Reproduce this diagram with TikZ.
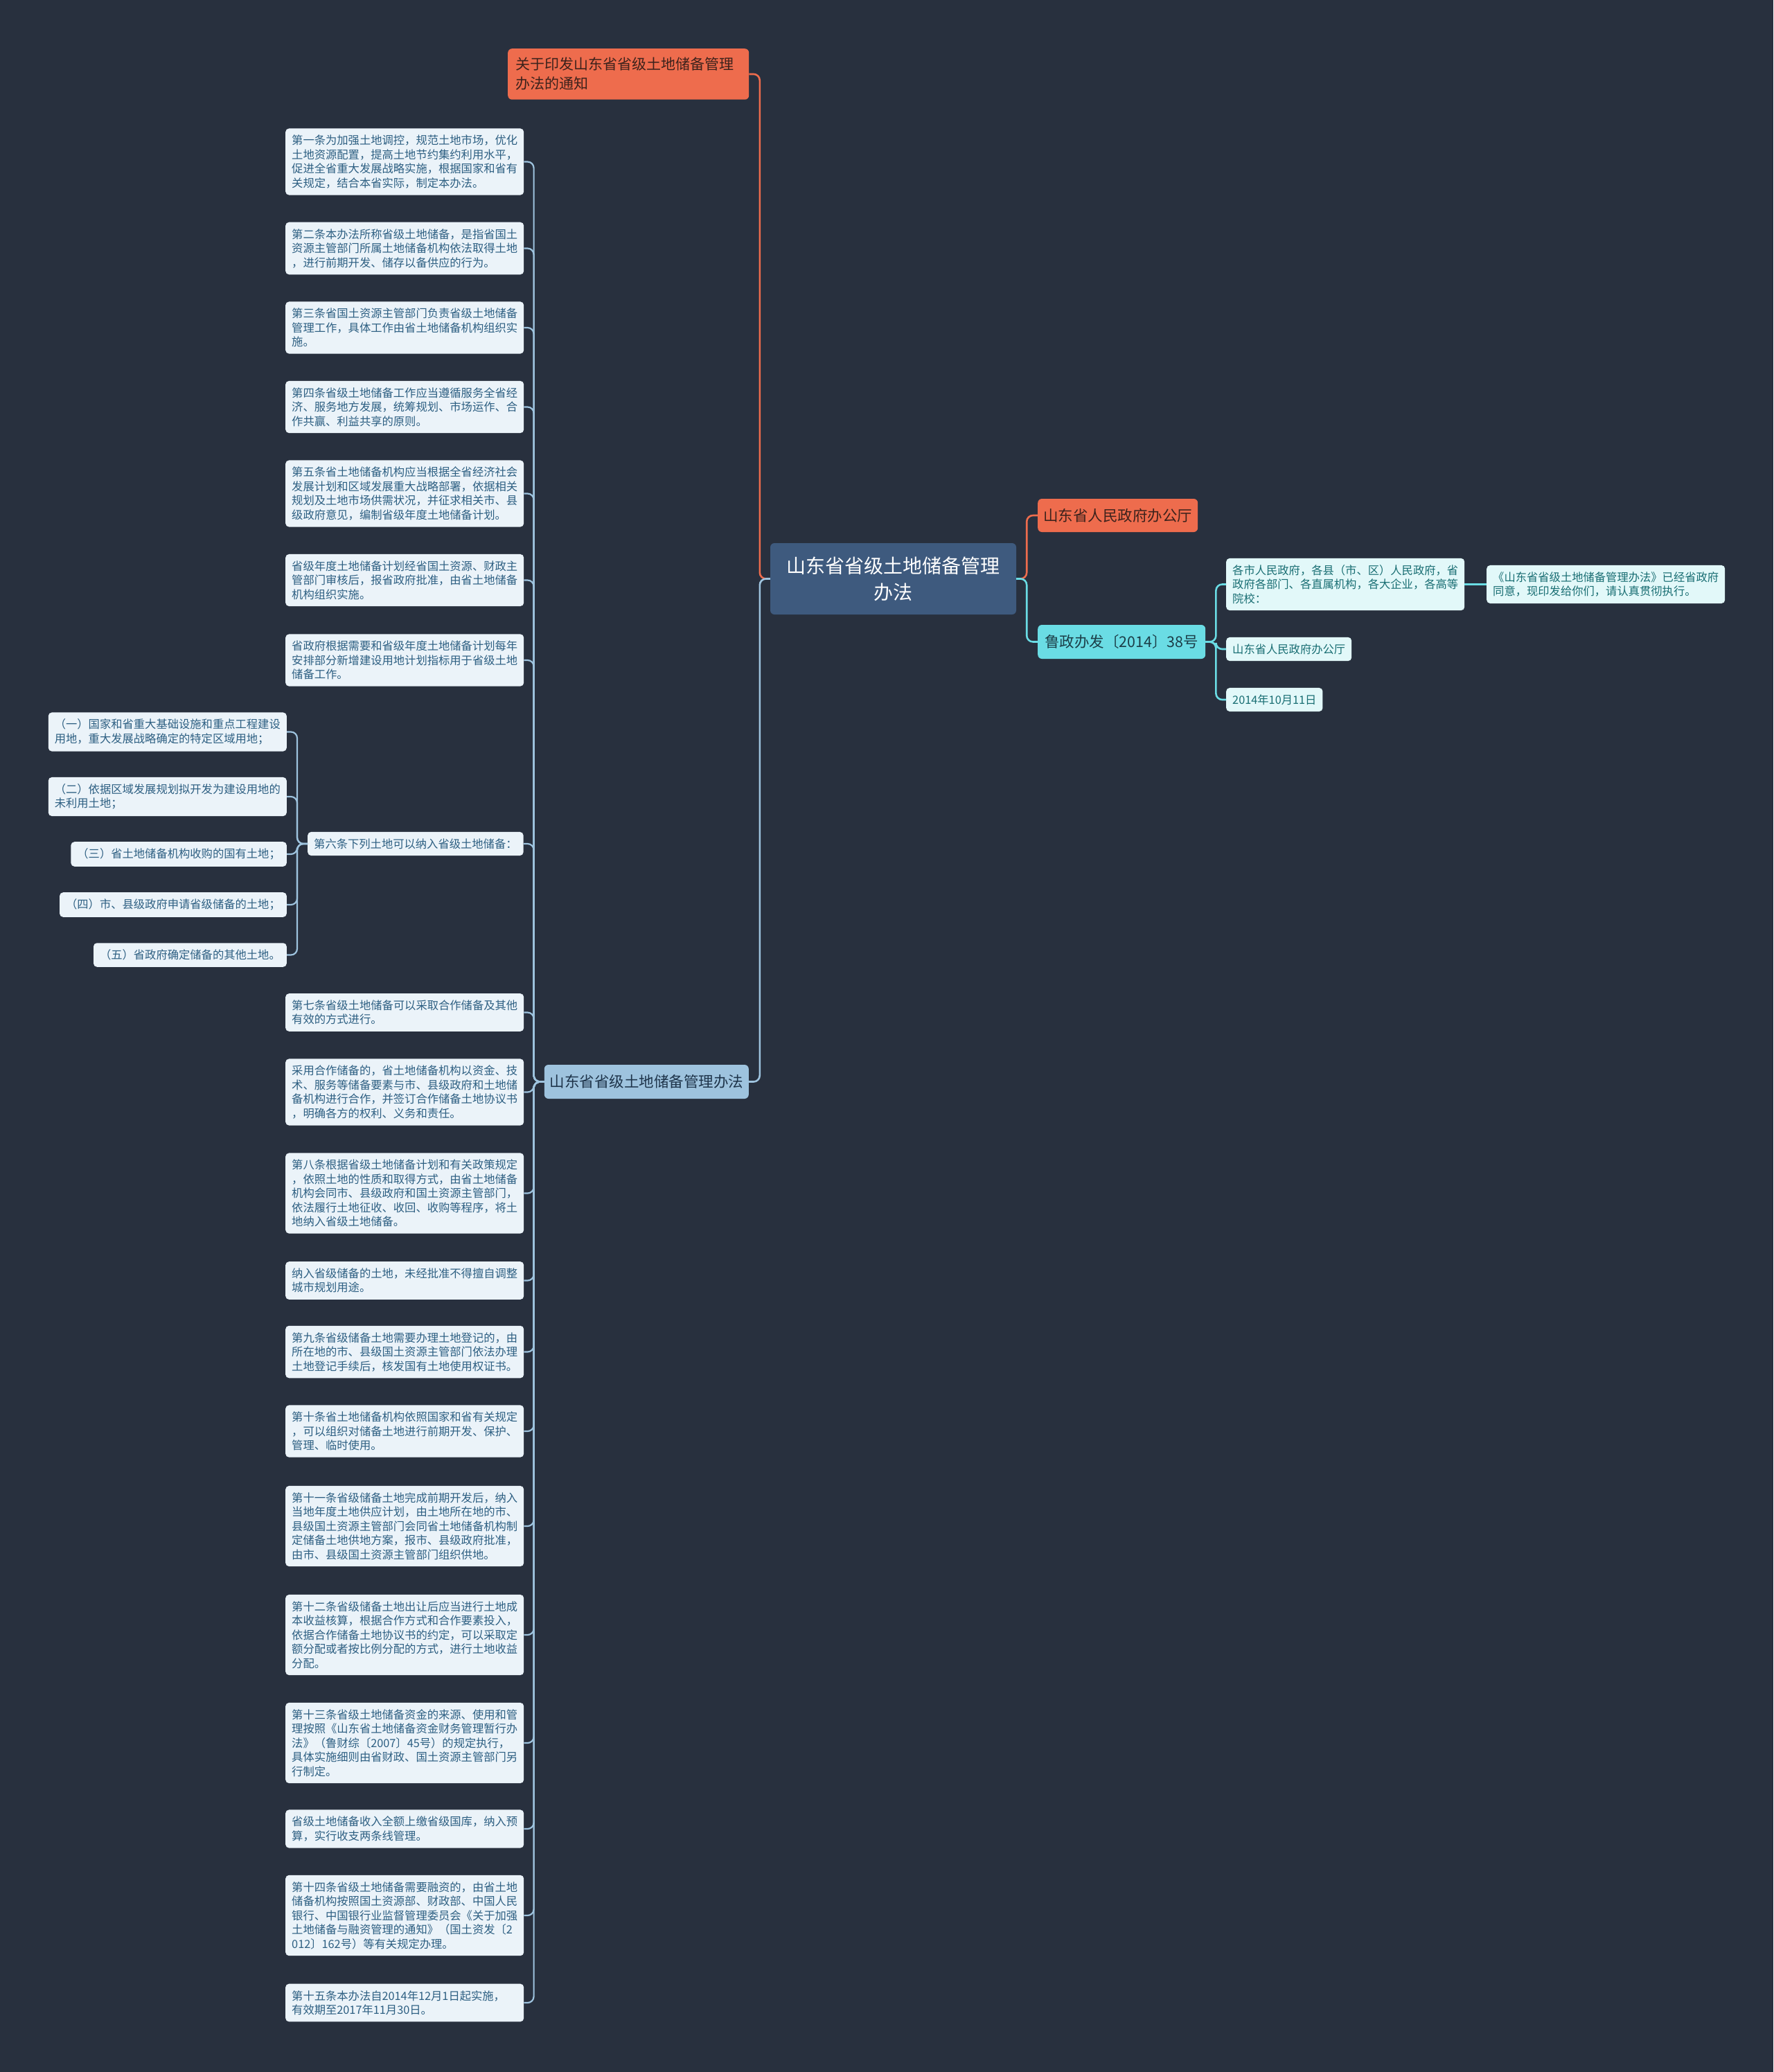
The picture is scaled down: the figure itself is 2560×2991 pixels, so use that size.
\documentclass[tikz,border=0pt]{standalone}
\usepackage{fontspec}
\setmainfont{Noto Sans CJK SC}
\definecolor{bgdark}{RGB}{40,48,62}
\definecolor{rootfill}{RGB}{62,90,126}
\definecolor{orangefill}{RGB}{238,108,77}
\definecolor{orangeink}{RGB}{60,34,28}
\definecolor{cyanfill}{RGB}{106,220,228}
\definecolor{cyanink}{RGB}{28,62,72}
\definecolor{bluefill}{RGB}{158,195,222}
\definecolor{blueink}{RGB}{30,52,74}
\definecolor{leaffill}{RGB}{235,243,249}
\definecolor{leafink}{RGB}{45,95,130}
\definecolor{tealfill}{RGB}{226,248,249}
\definecolor{tealink}{RGB}{25,110,115}
\begin{document}
\begin{tikzpicture}[x=1pt,y=-1pt,
        leaf/.style={fill=leaffill,text=leafink,rounded corners=5pt,inner xsep=9pt,inner ysep=9.5pt,
          align=left,font=\fontsize{16.3}{20.5}\selectfont},
        art/.style={leaf,text width=326pt,anchor=west},
        item/.style={leaf,anchor=east},
        tealleaf/.style={leaf,fill=tealfill,text=tealink,anchor=west},
        central/.style={fill=rootfill,text=white,rounded corners=6pt,align=center,
          minimum width=355pt,minimum height=103pt,font=\fontsize{28}{38}\selectfont},
        orangebox/.style={fill=orangefill,text=orangeink,rounded corners=6pt,inner xsep=11pt,
          font=\fontsize{21.5}{28}\selectfont},
        cyanbox/.style={fill=cyanfill,text=cyanink,rounded corners=6pt,inner xsep=5pt,
          font=\fontsize{21.5}{28}\selectfont},
        bluebox/.style={fill=bluefill,text=blueink,rounded corners=6pt,inner xsep=6pt,
          font=\fontsize{21.5}{28}\selectfont},
        link/.style={line width=2.6pt,rounded corners=9pt},
        orangeline/.style={link,draw=orangefill},
        cyanline/.style={link,draw=cyanfill},
        leafline/.style={link,line width=2.2pt,draw=bluefill}]

        % sfondo
        \fill[bgdark] (0,0) rectangle (2560,2991);
        \useasboundingbox (0,0) rectangle (2560,2991);

        % nodo centrale
        \node[central] (root) at (1289.5,835.5) {山东省省级土地储备管理\\办法};

        % rami principali
        \node[orangebox,anchor=north west,text width=326pt,align=left,inner ysep=13pt,
              font=\fontsize{21}{28}\selectfont] (notice) at (733,70)
              {关于印发山东省省级土地储备管理\\办法的通知};
        \node[bluebox,anchor=east,minimum width=295pt,minimum height=49pt] (rules) at (1081,1561.5)
              {山东省省级土地储备管理办法};
        \node[orangebox,anchor=west,inner xsep=5pt,
              minimum width=231pt,minimum height=48pt] (office) at (1498,744)
              {山东省人民政府办公厅};
        \node[cyanbox,anchor=west,minimum width=242pt,minimum height=49pt] (docno) at (1498,926.5)
              {鲁政办发〔2014〕38号};

        % foglie a destra
        \node[tealleaf,text width=326pt] (addr) at (1770,843.5)
              {各市人民政府，各县（市、区）人民政府，省\\政府各部门、各直属机构，各大企业，各高等\\院校：};
        \node[tealleaf,text width=326pt] (msg) at (2146,843.5)
              {《山东省省级土地储备管理办法》已经省政府\\同意，现印发给你们，请认真贯彻执行。};
        \node[tealleaf] (sign) at (1770,937) {山东省人民政府办公厅};
        \node[tealleaf] (date) at (1770,1010) {2014年10月11日};

        % articoli
        \node[art] (art1) at (412,233.5) {第一条为加强土地调控，规范土地市场，优化\\土地资源配置，提高土地节约集约利用水平，\\促进全省重大发展战略实施，根据国家和省有\\关规定，结合本省实际，制定本办法。};
        \node[art] (art2) at (412,358.5) {第二条本办法所称省级土地储备，是指省国土\\资源主管部门所属土地储备机构依法取得土地\\，进行前期开发、储存以备供应的行为。};
        \node[art] (art3) at (412,473) {第三条省国土资源主管部门负责省级土地储备\\管理工作，具体工作由省土地储备机构组织实\\施。};
        \node[art] (art4) at (412,587.5) {第四条省级土地储备工作应当遵循服务全省经\\济、服务地方发展，统筹规划、市场运作、合\\作共赢、利益共享的原则。};
        \node[art] (art5) at (412,712.5) {第五条省土地储备机构应当根据全省经济社会\\发展计划和区域发展重大战略部署，依据相关\\规划及土地市场供需状况，并征求相关市、县\\级政府意见，编制省级年度土地储备计划。};
        \node[art] (plan) at (412,837.5) {省级年度土地储备计划经省国土资源、财政主\\管部门审核后，报省政府批准，由省土地储备\\机构组织实施。};
        \node[art] (quota) at (412,953) {省政府根据需要和省级年度土地储备计划每年\\安排部分新增建设用地计划指标用于省级土地\\储备工作。};
        \node[leaf,anchor=west] (art6) at (444,1218) {第六条下列土地可以纳入省级土地储备：};
        \node[item] (it1) at (414,1056.5) {（一）国家和省重大基础设施和重点工程建设\\用地，重大发展战略确定的特定区域用地；};
        \node[item] (it2) at (414,1150) {（二）依据区域发展规划拟开发为建设用地的\\未利用土地；};
        \node[item] (it3) at (414,1233) {（三）省土地储备机构收购的国有土地；};
        \node[item] (it4) at (414,1306) {（四）市、县级政府申请省级储备的土地；};
        \node[item] (it5) at (414,1378.5) {（五）省政府确定储备的其他土地。};
        \node[art] (art7) at (412,1461.5) {第七条省级土地储备可以采取合作储备及其他\\有效的方式进行。};
        \node[art] (coop) at (412,1576.5) {采用合作储备的，省土地储备机构以资金、技\\术、服务等储备要素与市、县级政府和土地储\\备机构进行合作，并签订合作储备土地协议书\\，明确各方的权利、义务和责任。};
        \node[art] (art8) at (412,1722.5) {第八条根据省级土地储备计划和有关政策规定\\，依照土地的性质和取得方式，由省土地储备\\机构会同市、县级政府和国土资源主管部门，\\依法履行土地征收、收回、收购等程序，将土\\地纳入省级土地储备。};
        \node[art] (landuse) at (412,1848.5) {纳入省级储备的土地，未经批准不得擅自调整\\城市规划用途。};
        \node[art] (art9) at (412,1951.5) {第九条省级储备土地需要办理土地登记的，由\\所在地的市、县级国土资源主管部门依法办理\\土地登记手续后，核发国有土地使用权证书。};
        \node[art] (art10) at (412,2066) {第十条省土地储备机构依照国家和省有关规定\\，可以组织对储备土地进行前期开发、保护、\\管理、临时使用。};
        \node[art] (art11) at (412,2203) {第十一条省级储备土地完成前期开发后，纳入\\当地年度土地供应计划，由土地所在地的市、\\县级国土资源主管部门会同省土地储备机构制\\定储备土地供地方案，报市、县级政府批准，\\由市、县级国土资源主管部门组织供地。};
        \node[art] (art12) at (412,2360) {第十二条省级储备土地出让后应当进行土地成\\本收益核算，根据合作方式和合作要素投入，\\依据合作储备土地协议书的约定，可以采取定\\额分配或者按比例分配的方式，进行土地收益\\分配。};
        \node[art] (art13) at (412,2516) {第十三条省级土地储备资金的来源、使用和管\\理按照《山东省土地储备资金财务管理暂行办\\法》（鲁财综〔2007〕45号）的规定执行，\\具体实施细则由省财政、国土资源主管部门另\\行制定。};
        \node[art] (income) at (412,2640) {省级土地储备收入全额上缴省级国库，纳入预\\算，实行收支两条线管理。};
        \node[art] (art14) at (412,2765) {第十四条省级土地储备需要融资的，由省土地\\储备机构按照国土资源部、财政部、中国人民\\银行、中国银行业监督管理委员会《关于加强\\土地储备与融资管理的通知》（国土资发〔2\\012〕162号）等有关规定办理。};
        \node[art] (art15) at (412,2891) {第十五条本办法自2014年12月1日起实施，\\有效期至2017年11月30日。};

        % collegamenti
        \draw[orangeline] (root.west) -- ++(-15,0) |- (notice.east);
        \draw[leafline,line width=2.6pt] (root.west) -- ++(-15,0) |- (rules.east);
        \draw[orangeline] (root.east) -- ++(15,0) |- (office.west);
        \draw[cyanline] (root.east) -- ++(15,0) |- (docno.west);

        \draw[cyanline] (docno.east) -- ++(15,0) |- (addr.west);
        \draw[cyanline] (docno.east) -- ++(15,0) |- (sign.west);
        \draw[cyanline] (docno.east) -- ++(15,0) |- (date.west);
        \draw[cyanline] (addr.east) -- (msg.west);

        \draw[leafline] (rules.west) -- ++(-15,0) |- (art1.east);
        \draw[leafline] (rules.west) -- ++(-15,0) |- (art2.east);
        \draw[leafline] (rules.west) -- ++(-15,0) |- (art3.east);
        \draw[leafline] (rules.west) -- ++(-15,0) |- (art4.east);
        \draw[leafline] (rules.west) -- ++(-15,0) |- (art5.east);
        \draw[leafline] (rules.west) -- ++(-15,0) |- (plan.east);
        \draw[leafline] (rules.west) -- ++(-15,0) |- (quota.east);
        \draw[leafline] (rules.west) -- ++(-15,0) |- (art6.east);
        \draw[leafline] (rules.west) -- ++(-15,0) |- (art7.east);
        \draw[leafline] (rules.west) -- ++(-15,0) |- (coop.east);
        \draw[leafline] (rules.west) -- ++(-15,0) |- (art8.east);
        \draw[leafline] (rules.west) -- ++(-15,0) |- (landuse.east);
        \draw[leafline] (rules.west) -- ++(-15,0) |- (art9.east);
        \draw[leafline] (rules.west) -- ++(-15,0) |- (art10.east);
        \draw[leafline] (rules.west) -- ++(-15,0) |- (art11.east);
        \draw[leafline] (rules.west) -- ++(-15,0) |- (art12.east);
        \draw[leafline] (rules.west) -- ++(-15,0) |- (art13.east);
        \draw[leafline] (rules.west) -- ++(-15,0) |- (income.east);
        \draw[leafline] (rules.west) -- ++(-15,0) |- (art14.east);
        \draw[leafline] (rules.west) -- ++(-15,0) |- (art15.east);

        \draw[leafline] (art6.west) -- ++(-15,0) |- (it1.east);
        \draw[leafline] (art6.west) -- ++(-15,0) |- (it2.east);
        \draw[leafline] (art6.west) -- ++(-15,0) |- (it3.east);
        \draw[leafline] (art6.west) -- ++(-15,0) |- (it4.east);
        \draw[leafline] (art6.west) -- ++(-15,0) |- (it5.east);
    \end{tikzpicture}
\end{document}
